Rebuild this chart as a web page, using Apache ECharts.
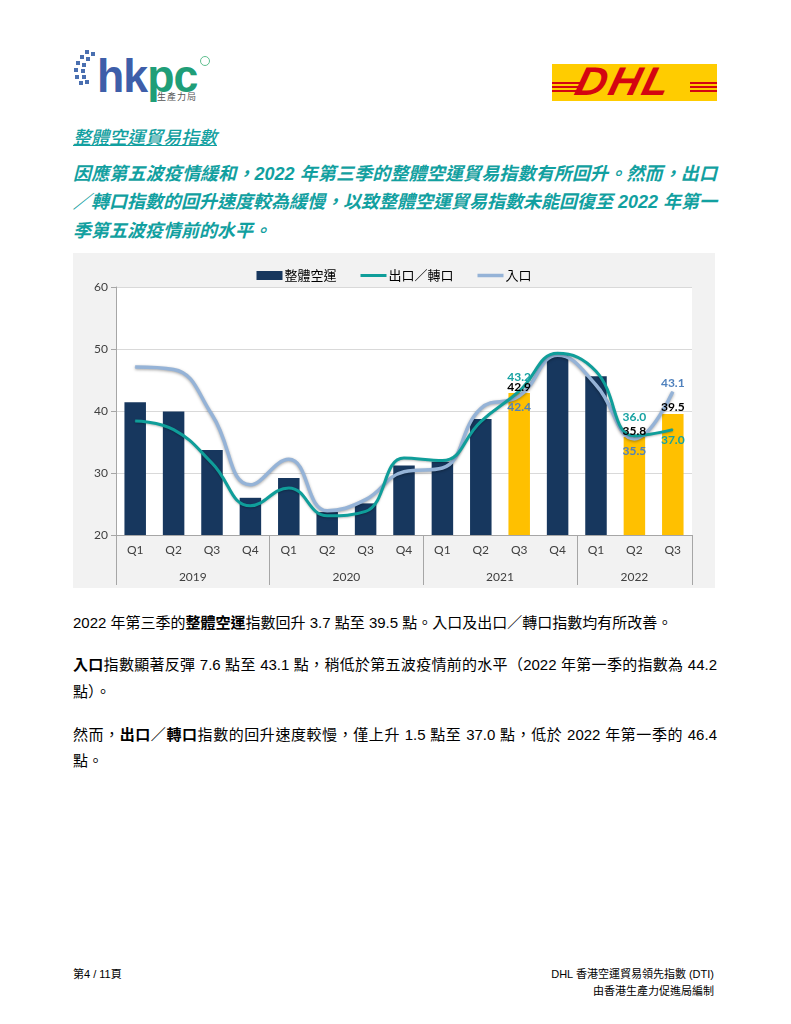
<!DOCTYPE html>
<html>
<head>
<meta charset="utf-8">
<script src="https://cdn.jsdelivr.net/npm/echarts@6/dist/echarts.min.js"></script>
<style>
  html, body { margin:0; padding:0; background:#fff; }
  body { width:791px; height:1024px; position:relative; overflow:hidden;
         font-family: "Liberation Sans", Arial, "Noto Sans CJK TC", sans-serif; }
  .abs { position:absolute; }
  .teal { color:#12a0a0; font-family:"Liberation Sans", Arial, "Noto Sans CJK TC", sans-serif; }
  .head { left:73px; top:123px; font-size:18px; font-style:italic; text-decoration:underline; font-weight:500; }
  .pline { left:73px; width:644px; font-size:18px; font-style:italic; font-weight:bold; white-space:nowrap; }
  .just { text-align:justify; text-align-last:justify; }
  .body { left:73px; font-size:15px; color:#000; white-space:nowrap; }
  .foot { font-size:11px; color:#000; white-space:nowrap; }
  #chart { left:73px; top:253px; width:642px; height:335px; }
</style>
</head>
<body>
<!-- hkpc logo -->
<svg class="abs" style="left:70px;top:48px" width="30" height="40" viewBox="0 0 30 40">
  <g fill="#4a6fb0">
    <rect x="15" y="2" width="4" height="4"/><rect x="21" y="4" width="4" height="4"/>
    <rect x="10" y="7" width="4" height="4"/><rect x="16" y="9" width="4" height="4"/>
    <rect x="6" y="13" width="4" height="4"/><rect x="12" y="15" width="4" height="4"/>
    <rect x="4" y="20" width="4" height="4"/><rect x="11" y="21" width="4" height="4"/>
    <rect x="5" y="27" width="4" height="4"/><rect x="12" y="27" width="4" height="4"/>
    <rect x="9" y="33" width="4" height="4"/><rect x="15" y="32" width="4" height="4"/>
  </g>
</svg>
<div class="abs" style="left:97px;top:41px;font-family:'Liberation Sans',Arial,sans-serif;font-weight:bold;font-size:47px;letter-spacing:-1px;line-height:70px;transform:scaleX(0.95);transform-origin:0 0;">
  <span style="color:#3e5ea9">hk</span><span style="color:#1f9e78">pc</span>
</div>
<div class="abs" style="left:200px;top:56px;width:8px;height:8px;border-radius:50%;border:1.5px solid #5fbf8f;"></div>
<div class="abs" style="left:157px;top:92px;font-size:9px;line-height:10px;color:#555;font-family:'Noto Sans CJK TC',sans-serif;letter-spacing:1px;">生產力局</div>

<!-- DHL logo -->
<div class="abs" style="left:552px;top:64px;width:165px;height:37px;background:#ffcc00;overflow:hidden;">
  <div class="abs" style="left:0;top:18px;width:165px;height:2px;background:#d40511;"></div>
  <div class="abs" style="left:0;top:22px;width:165px;height:2px;background:#d40511;"></div>
  <div class="abs" style="left:0;top:26px;width:165px;height:2px;background:#d40511;"></div>
  <div class="abs" style="left:30px;top:4px;width:108px;height:30px;background:#ffcc00;"></div>
  <div class="abs" style="left:30px;top:-5px;font-family:'Liberation Sans',Arial,sans-serif;font-weight:900;font-style:italic;font-size:40px;color:#d40511;letter-spacing:2px;transform:skewX(-14deg) scaleX(1.08);transform-origin:0 0;">DHL</div>
</div>

<!-- heading -->
<div class="abs teal head">整體空運貿易指數</div>
<div class="abs teal pline just" style="top:159px;">因應第五波疫情緩和，2022 年第三季的整體空運貿易指數有所回升。然而，出口</div>
<div class="abs teal pline just" style="top:187px;">／轉口指數的回升速度較為緩慢，以致整體空運貿易指數未能回復至 2022 年第一</div>
<div class="abs teal pline" style="top:216px;">季第五波疫情前的水平。</div>

<div id="chart" class="abs"></div>

<!-- body text -->
<div class="abs body" style="top:611px;">2022 年第三季的<b>整體空運</b>指數回升 3.7 點至 39.5 點。入口及出口／轉口指數均有所改善。</div>
<div class="abs body just" style="top:653px;width:644px;"><b>入口</b>指數顯著反彈 7.6 點至 43.1 點，稍低於第五波疫情前的水平（2022 年第一季的指數為 44.2</div>
<div class="abs body" style="top:680px;">點）。</div>
<div class="abs body just" style="top:723px;width:644px;">然而，<b>出口／轉口</b>指數的回升速度較慢，僅上升 1.5 點至 37.0 點，低於 2022 年第一季的 46.4</div>
<div class="abs body" style="top:749px;">點。</div>

<!-- footer -->
<div class="abs foot" style="left:73px;top:965px;">第4 / 11頁</div>
<div class="abs foot" style="right:77px;top:965px;text-align:right;">DHL 香港空運貿易領先指數 (DTI)</div>
<div class="abs foot" style="right:77px;top:982px;text-align:right;">由香港生產力促進局編制</div>

<script>
// ---------------- data ----------------
const quarters = ['Q1','Q2','Q3','Q4','Q1','Q2','Q3','Q4','Q1','Q2','Q3','Q4','Q1','Q2','Q3'];
const years = ['2019','2020','2021','2022'];
const quartersPerYear = [4, 4, 4, 3];
const seriesNames = ['整體空運', '出口／轉口', '入口'];
const overallIndex = [41.4, 39.9, 33.7, 26.0, 29.2, 23.7, 25.1, 31.2, 31.8, 38.7, 42.9, 49.0, 45.6, 35.8, 39.5];
const exportIndex  = [38.4, 37.0, 31.6, 24.7, 27.6, 23.1, 23.8, 32.4, 32.0, 38.3, 43.2, 49.3, 46.4, 36.0, 37.0];
const importIndex  = [47.1, 46.7, 39.4, 28.1, 32.2, 23.9, 25.7, 30.2, 30.8, 40.4, 42.4, 49.0, 44.2, 35.5, 43.1];
const highlightedQuarters = [10, 13, 14];
const yMin = 20, yMax = 60, yStep = 10;

// ---------------- build ----------------
const NAVY = '#17375e', GOLD = '#ffc000', TEAL = '#0f9e9a', LBLUE = '#95b3d7';
const TEAL_TXT = '#16a2a2', BLUE_TXT = '#4f81bd';
const FONT = 'Lato, "Noto Sans", "Noto Sans CJK TC", sans-serif';

// year axis: two half-steps per quarter (boundaryGap false)
const yearAxisData = [];
const yearBoundary = new Set();
const yearLabelAt = {};
let cum = 0;
years.forEach((y, i) => {
  yearBoundary.add(cum * 2);
  yearLabelAt[cum * 2 + quartersPerYear[i]] = y;
  cum += quartersPerYear[i];
});
yearBoundary.add(cum * 2);
for (let i = 0; i <= cum * 2; i++) yearAxisData.push(yearLabelAt[i] || ('_' + i));

// label layout for the highlighted quarters
const lblCfg = {
  bar:   {10: ['top', 0], 13: ['top', 0], 14: ['top', 1]},
  exp:   {10: ['top', 8], 13: ['top', 12], 14: ['bottom', 4]},
  imp:   {10: ['bottom', 5], 13: ['bottom', 6], 14: ['top', 2]}
};
function mkLabel(cfg, color) {
  return {show: true, position: cfg[0], distance: cfg[1], color: color,
          fontWeight: 'bold', fontSize: 12, fontFamily: FONT,
          formatter: p => Number(p.value).toFixed(1)};
}

const barData = overallIndex.map((v, i) => {
  const d = {value: v};
  if (highlightedQuarters.includes(i)) d.itemStyle = {color: GOLD};
  return d;
});
const barLabelData = overallIndex.map((v, i) => {
  const d = {value: v};
  if (lblCfg.bar[i]) d.label = mkLabel(lblCfg.bar[i], '#000');
  return d;
});
const expData = exportIndex.map((v, i) => {
  const d = {value: v};
  if (lblCfg.exp[i]) d.label = mkLabel(lblCfg.exp[i], TEAL_TXT);
  return d;
});
const impData = importIndex.map((v, i) => {
  const d = {value: v};
  if (lblCfg.imp[i]) d.label = mkLabel(lblCfg.imp[i], BLUE_TXT);
  return d;
});

const chart = echarts.init(document.getElementById('chart'));
chart.setOption({
  backgroundColor: '#f2f2f2',
  animation: false,
  textStyle: {fontFamily: FONT},
  legend: {
    top: 11, left: 'center', itemWidth: 26, itemHeight: 9, itemGap: 24,
    textStyle: {fontSize: 13, color: '#000', fontFamily: '"Noto Sans CJK TC", sans-serif', padding: [0, 0, 0, -3]},
    data: [
      {name: seriesNames[0], icon: 'rect'},
      {name: seriesNames[1], icon: 'path://M0,0 L26,0 L26,3 L0,3 Z'},
      {name: seriesNames[2], icon: 'path://M0,0 L26,0 L26,3.5 L0,3.5 Z'}
    ]
  },
  grid: {left: 43, right: 23, top: 34, bottom: 53, show: true, backgroundColor: '#fff', borderWidth: 0},
  xAxis: [
    {
      type: 'category', data: quarters, boundaryGap: true,
      axisLine: {onZero: false, lineStyle: {color: '#a6a6a6', width: 1}},
      axisTick: {show: false},
      axisLabel: {color: '#404040', fontSize: 12, margin: 9, fontFamily: FONT}
    },
    {
      type: 'category', data: yearAxisData, boundaryGap: false, position: 'bottom',
      axisLine: {show: false, onZero: false},
      axisTick: {show: true, length: 50, interval: (i) => yearBoundary.has(i), lineStyle: {color: '#a6a6a6'}},
      axisLabel: {interval: (i) => !!yearLabelAt[i], margin: 36, color: '#404040', fontSize: 12, fontFamily: FONT,
                  formatter: v => (v.charAt(0) === '_' ? '' : v)},
      splitLine: {show: false}
    }
  ],
  yAxis: {
    type: 'value', min: yMin, max: yMax, interval: yStep,
    axisLine: {show: true, lineStyle: {color: '#a6a6a6'}},
    axisTick: {show: true, length: 5, lineStyle: {color: '#a6a6a6'}},
    splitLine: {lineStyle: {color: '#d9d9d9'}},
    axisLabel: {color: '#404040', fontSize: 12, margin: 8, fontFamily: FONT}
  },
  series: [
    {
      name: seriesNames[0], type: 'bar', xAxisIndex: 0, data: barData, barWidth: '56%',
      itemStyle: {color: NAVY}, z: 2
    },
    {
      name: seriesNames[2], type: 'line', xAxisIndex: 0, data: impData, smooth: 0.45,
      symbol: 'circle', symbolSize: 1, showSymbol: true,
      itemStyle: {color: LBLUE},
      lineStyle: {color: LBLUE, width: 3.5, shadowColor: 'rgba(0,0,0,0.35)', shadowBlur: 3, shadowOffsetY: 1},
      z: 3
    },
    {
      name: seriesNames[1], type: 'line', xAxisIndex: 0, data: expData, smooth: 0.45,
      symbol: 'circle', symbolSize: 1, showSymbol: true,
      itemStyle: {color: TEAL},
      lineStyle: {color: TEAL, width: 3, shadowColor: 'rgba(0,0,0,0.25)', shadowBlur: 2, shadowOffsetY: 1},
      z: 4
    },
    {
      // transparent overlay carrying the bar value labels above the lines
      name: seriesNames[0] + '_label', type: 'bar', xAxisIndex: 0, data: barLabelData, barWidth: '56%',
      barGap: '-100%', itemStyle: {color: 'rgba(0,0,0,0)'}, z: 6, silent: true
    }
  ]
});
</script>
</body>
</html>
